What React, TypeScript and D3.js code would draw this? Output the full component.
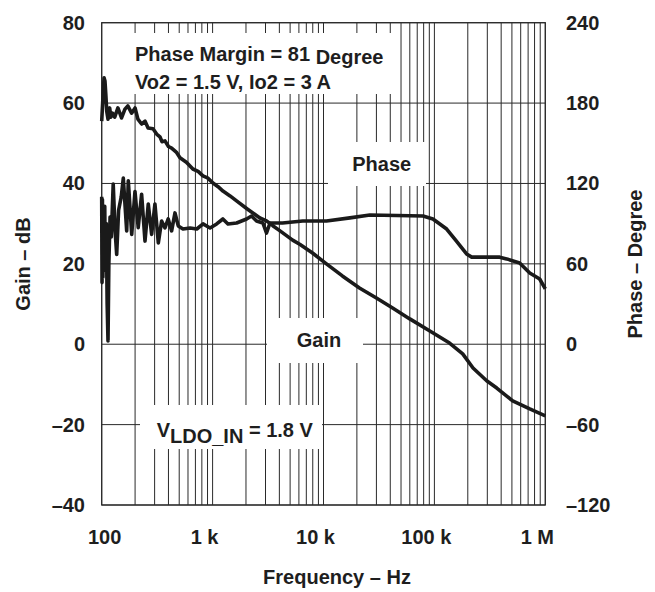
import React from "react";
import * as d3 from "d3";

// ---- data ----
const gainFreq = [100, 102, 105, 107, 109, 111, 114, 118, 121, 125, 131, 140, 151, 162, 172, 186, 200, 212, 229, 246, 262, 290, 313, 335, 350, 372, 400, 427, 470, 508, 580, 664, 740, 818, 900, 1007, 1120, 1240, 1437, 1656, 2040, 2670, 3064, 3490, 4055, 5270, 6150, 7960, 10630, 14800, 21100, 30000, 42000, 60000, 91000, 137000, 180000, 223000, 296000, 365000, 508000, 724000, 1000000];
const gainDb = [55.5, 60, 66.3, 65.5, 62, 58, 56, 58.8, 56.5, 57.5, 56.5, 58.8, 56.3, 58.5, 59.3, 57.5, 58.8, 56, 54.8, 55.5, 53.8, 53.6, 52.3, 51.6, 50.4, 50.6, 49.2, 48.8, 47.8, 46.4, 45.3, 43.6, 43.0, 41.9, 41.4, 40.1, 39.2, 38.1, 36.9, 35.6, 33.7, 31.4, 30.7, 29.5, 28.2, 25.9, 24.8, 22.7, 20, 17, 14, 11.5, 9, 6.3, 3.3, 0.3, -2.4, -5.9, -9.1, -10.9, -14.1, -16.1, -17.8];

const phaseFreq = [100, 100.7, 101.5, 102.5, 103.5, 105, 106.5, 108, 110, 112, 114, 116, 119, 122, 127, 132, 136.5, 142, 150, 156.6, 168, 173.7, 186.5, 199.6, 213.4, 229, 245.7, 263, 282, 302, 324, 347, 372, 398, 427, 458, 490, 541, 626, 720, 820, 948, 1088, 1238, 1376, 1645, 2026, 2245, 2490, 2840, 3064, 3290, 4270, 6500, 10630, 17300, 26200, 78900, 97000, 129000, 158000, 195000, 217000, 388000, 448000, 587000, 724000, 890000, 1000000];
const phaseDeg = [110, 46, 108, 50, 95, 60, 103, 55, 90, 30, 2.5, 60, 95, 80, 119.6, 85, 67, 100, 110, 124, 84.6, 121.9, 82, 114, 87, 112, 77, 104.7, 82, 104.7, 75.6, 92, 86.8, 93.5, 84.6, 98, 88.3, 86, 86.8, 86, 89.8, 86.8, 89.8, 93.5, 89.8, 90.5, 93.5, 95.7, 92, 90.5, 83, 90.5, 90.5, 92, 92, 94.3, 96.5, 95.7, 93.5, 86, 77, 67.4, 65, 65, 63.7, 60.6, 53.2, 48.7, 41.3];

const gainTicks = [-40, -20, 0, 20, 40, 60, 80];
const phaseTicks = [-120, -60, 0, 60, 120, 180, 240];
const freqTicks = [100, 1000, 10000, 100000, 1000000];
const freqTickLabels = ["100", "1 k", "10 k", "100 k", "1 M"];

const FONT = "'Liberation Sans', Arial, Helvetica, sans-serif";

export default function App() {
  const left = 101.7, right = 545.3, top = 22.7, bottom = 505;
  const x = d3.scaleLog().domain([100, 1e6]).range([left, right]);
  const yG = d3.scaleLinear().domain([-40, 80]).range([bottom, top]);
  const yP = d3.scaleLinear().domain([-120, 240]).range([bottom, top]);

  const minor: number[] = [];
  for (let dec = 100; dec < 1e6; dec *= 10) {
    for (let m = 2; m <= 9; m++) minor.push(dec * m);
  }
  const allV = [...freqTicks, ...minor];

  const gainLine = d3.line<number>().x((_, i) => x(gainFreq[i])).y((d) => yG(d));
  const phaseLine = d3.line<number>().x((_, i) => x(phaseFreq[i])).y((d) => yP(d));

  const boxes = [
    [110, 33, 397, 94],
    [328, 142, 426, 186],
    [267, 318, 363, 363],
    [140, 405, 322, 449],
  ];

  const gridColor = "#2a2a2a";
  const txt = { fontFamily: FONT, fontWeight: 700, fontSize: 20, fill: "#1e1e1e" } as const;

  return (
    <svg width={655} height={592} style={{ position: "absolute", left: 0, top: 0, background: "#fff" }}>
      <rect x={0} y={0} width={655} height={592} fill="#fff" />
      {allV.map((f) => (
        <line key={"v" + f} x1={x(f)} x2={x(f)} y1={top} y2={bottom} stroke={gridColor} strokeWidth={1} />
      ))}
      {gainTicks.map((g) => (
        <line key={"h" + g} x1={left} x2={right} y1={yG(g)} y2={yG(g)} stroke={gridColor} strokeWidth={1} />
      ))}
      <rect x={left} y={top} width={right - left} height={bottom - top} fill="none" stroke={gridColor} strokeWidth={1.2} />
      {boxes.map((b, i) => (
        <rect key={"b" + i} x={b[0]} y={b[1]} width={b[2] - b[0]} height={b[3] - b[1]} fill="#fff" />
      ))}
      <path d={phaseLine(phaseDeg) || ""} fill="none" stroke="#1a1a1a" strokeWidth={3.6} strokeLinejoin="round" />
      <path d={gainLine(gainDb) || ""} fill="none" stroke="#1a1a1a" strokeWidth={3.6} strokeLinejoin="round" />

      {gainTicks.map((g) => (
        <text key={"gl" + g} x={85} y={yG(g) + 7} textAnchor="end" {...txt}>
          {g < 0 ? "\u2013" + Math.abs(g) : String(g)}
        </text>
      ))}
      {phaseTicks.map((p) => (
        <text key={"pl" + p} x={566} y={yP(p) + 7} textAnchor="start" {...txt}>
          {p < 0 ? "\u2013" + Math.abs(p) : String(p)}
        </text>
      ))}
      {freqTicks.map((f, i) => (
        <text key={"fl" + f} x={x(f) + (freqTickLabels[i].includes(" ") ? -8 : 3)} y={544} textAnchor="middle" {...txt}>
          {freqTickLabels[i]}
        </text>
      ))}

      <text x={337} y={584} textAnchor="middle" {...txt}>Frequency – Hz</text>
      <text transform="translate(30,264) rotate(-90)" textAnchor="middle" {...txt}>Gain – dB</text>
      <text transform="translate(642,264) rotate(-90)" textAnchor="middle" {...txt}>Phase – Degree</text>

      <text x={135} y={61} {...txt}>
        Phase Margin = 81 <tspan dy={3}>Degree</tspan>
      </text>
      <text x={135} y={89} {...txt}>Vo2 = 1.5 V, Io2 = 3 A</text>
      <text x={381.7} y={171} textAnchor="middle" {...txt}>Phase</text>
      <text x={319} y={347} textAnchor="middle" {...txt}>Gain</text>
      <text x={156.7} y={436.7} {...txt}>
        V<tspan dy={6}>LDO_IN</tspan>
        <tspan dy={-6}> = 1.8 V</tspan>
      </text>
    </svg>
  );
}
